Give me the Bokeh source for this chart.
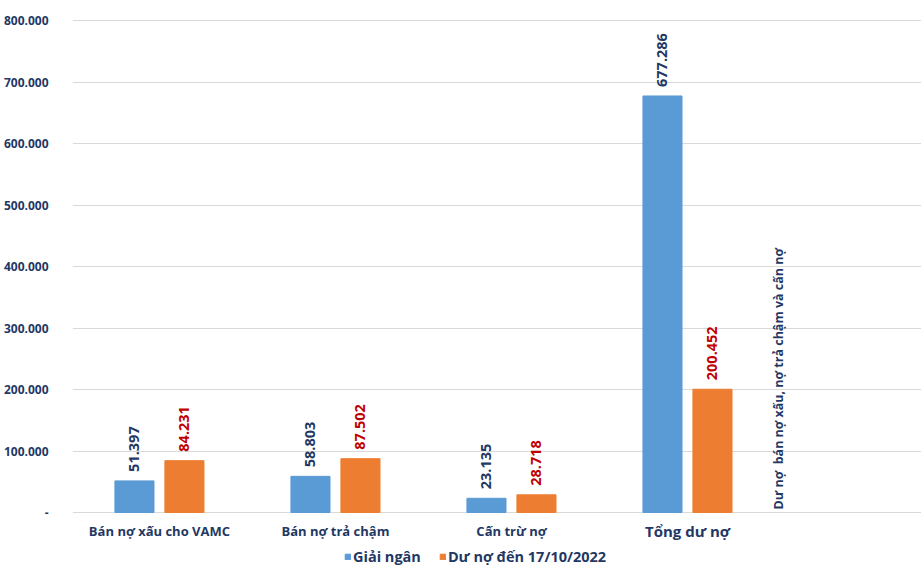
import math
from bokeh.plotting import figure
from bokeh.models import ColumnDataSource, Range1d, FixedTicker, Legend, LegendItem
from bokeh.core.properties import value
from bokeh.embed import file_html
from bokeh.resources import INLINE

categories = ["Bán nợ xấu cho VAMC", "Bán nợ trả chậm", "Cấn trừ nợ", "Tổng dư nợ"]
category_font_sizes = ["13px", "13px", "13px", "15px"]
giai_ngan = [51397, 58803, 23135, 677286]
du_no = [84231, 87502, 28718, 200452]
giai_ngan_labels = ["51.397", "58.803", "23.135", "677.286"]
du_no_labels = ["84.231", "87.502", "28.718", "200.452"]
series_names = ["Giải ngân", "Dư nợ đến 17/10/2022"]
note_text = "Dư nợ\u00a0 bán nợ xấu, nợ trả chậm và cấn nợ"
y_ticks = [0, 100000, 200000, 300000, 400000, 500000, 600000, 700000, 800000]
y_tick_labels = ["-", "100.000", "200.000", "300.000", "400.000", "500.000", "600.000", "700.000", "800.000"]

NAVY = "#1F3864"
RED = "#C00000"
BLUE = "#5B9BD5"
ORANGE = "#ED7D31"
FONT = "Open Sans"

idx = list(range(len(categories)))
off = 0.142
bw = 0.222

# pixel scale: 800.000 spans 492 px
px = 800000 / 492.0
frame_h = 551
y_end = 800000 + px
y_start = y_end - frame_h * px

src_b = ColumnDataSource(dict(x=[i - off for i in idx], top=giai_ngan, lab=giai_ngan_labels))
src_o = ColumnDataSource(dict(x=[i + off for i in idx], top=du_no, lab=du_no_labels))
src_c = ColumnDataSource(dict(x=idx, y=[0] * len(idx), lab=categories, fs=category_font_sizes))

p = figure(frame_width=851, frame_height=frame_h, output_backend="svg", toolbar_location=None,
           x_range=Range1d(-0.494, 4.341), y_range=Range1d(y_start, y_end),
           min_border_left=70, min_border_right=0, min_border_top=19, min_border_bottom=0)
p.outline_line_color = None
p.background_fill_color = "white"
p.border_fill_color = "white"

rb = p.vbar(x="x", top="top", width=bw, source=src_b, color=BLUE)
ro = p.vbar(x="x", top="top", width=bw, source=src_o, color=ORANGE)

p.text(x="x", y="top", text="lab", source=src_b, angle=math.pi / 2,
       text_align="left", text_baseline="middle", y_offset=-9,
       text_font=value(FONT), text_font_style="bold", text_font_size="14.5px", text_color=NAVY)
p.text(x="x", y="top", text="lab", source=src_o, angle=math.pi / 2,
       text_align="left", text_baseline="middle", y_offset=-9,
       text_font=value(FONT), text_font_style="bold", text_font_size="14.5px", text_color=RED)

p.text(x=[3.517], y=[0], text=[note_text], angle=math.pi / 2,
       text_align="left", text_baseline="middle", y_offset=-3,
       text_font=value(FONT), text_font_style="bold", text_font_size="12.5px", text_color=NAVY)

# category labels under the baseline
p.text(x="x", y="y", text="lab", source=src_c, text_align="center", text_baseline="middle",
       y_offset=18, text_font=value(FONT), text_font_style="bold", text_font_size="fs",
       text_color=NAVY)

p.xaxis.visible = False

p.yaxis.ticker = FixedTicker(ticks=y_ticks)
p.yaxis.major_label_overrides = {t: l for t, l in zip(y_ticks, y_tick_labels)}
p.yaxis.major_tick_line_color = None
p.yaxis.minor_tick_line_color = None
p.yaxis.axis_line_color = None
p.yaxis.major_label_standoff = 18
p.yaxis.major_label_text_font = FONT
p.yaxis.major_label_text_font_style = "bold"
p.yaxis.major_label_text_font_size = "12px"
p.yaxis.major_label_text_color = NAVY

p.xgrid.grid_line_color = None
p.ygrid.grid_line_color = "#D9D9D9"
p.ygrid.ticker = FixedTicker(ticks=y_ticks)

legend = Legend(items=[LegendItem(label=series_names[0], renderers=[rb]),
                       LegendItem(label=series_names[1], renderers=[ro])],
                orientation="horizontal", location=(272, 4))
legend.label_text_font = FONT
legend.label_text_font_style = "bold"
legend.label_text_font_size = "14.5px"
legend.label_text_color = NAVY
legend.glyph_width = 7
legend.glyph_height = 7
legend.label_standoff = 2
legend.spacing = 18
legend.padding = 0
legend.margin = 0
legend.border_line_color = None
legend.background_fill_alpha = 0
legend.label_height = 14
p.add_layout(legend, "center")

open("out.html", "w").write(file_html(p, INLINE))
